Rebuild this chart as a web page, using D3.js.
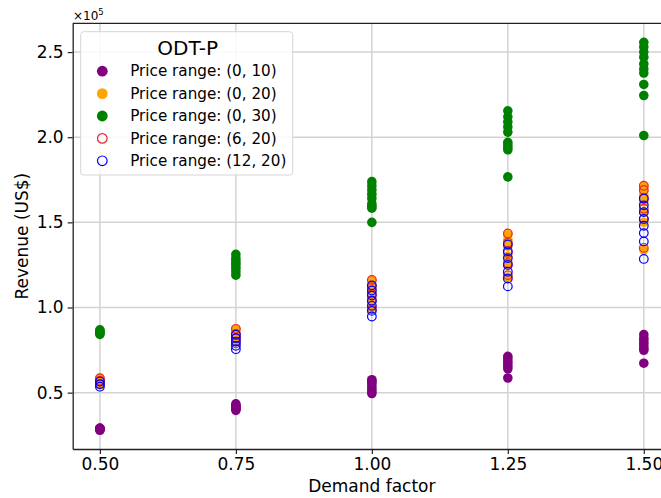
<!DOCTYPE html>
<html>
<head>
<meta charset="utf-8">
<script src="https://cdn.jsdelivr.net/npm/d3@7"></script>
<style>
  body { margin: 0; background: #fff; }
  text { font-family: "DejaVu Sans", sans-serif; fill: #000; }
</style>
</head>
<body>
<svg id="chart" width="661" height="498"></svg>
<script>
// demand factors on the x axis
var demandFactors = [0.5, 0.75, 1.0, 1.25, 1.5];

// revenue in units of 1e5 US$, one list per demand factor
var range0to10 = [
  [0.279, 0.282, 0.285, 0.288, 0.290, 0.292],
  [0.396, 0.402, 0.408, 0.414, 0.420, 0.426, 0.434],
  [0.495, 0.505, 0.520, 0.535, 0.550, 0.560, 0.570, 0.576],
  [0.586, 0.640, 0.655, 0.670, 0.685, 0.700, 0.713],
  [0.673, 0.749, 0.760, 0.775, 0.790, 0.805, 0.820, 0.841]
];
var range0to20 = [
  [0.545, 0.560, 0.575, 0.582],
  [0.800, 0.830, 0.850, 0.871],
  [1.000, 1.050, 1.100, 1.130, 1.159],
  [1.179, 1.250, 1.300, 1.360, 1.400, 1.428],
  [1.339, 1.500, 1.560, 1.620, 1.660, 1.682, 1.712]
];
var range0to30 = [
  [0.842, 0.848, 0.855, 0.862, 0.869],
  [1.190, 1.210, 1.230, 1.245, 1.260, 1.275, 1.290, 1.312],
  [1.500, 1.583, 1.595, 1.610, 1.640, 1.665, 1.690, 1.715, 1.739],
  [1.767, 1.926, 1.940, 1.955, 1.970, 2.030, 2.060, 2.090, 2.120, 2.155],
  [2.010, 2.245, 2.310, 2.377, 2.400, 2.430, 2.470, 2.500, 2.530, 2.557]
];
var range6to20 = [
  [0.550, 0.570, 0.585],
  [0.790, 0.820, 0.845, 0.875],
  [0.990, 1.040, 1.080, 1.120, 1.162],
  [1.190, 1.260, 1.320, 1.380, 1.435],
  [1.350, 1.520, 1.580, 1.640, 1.690, 1.715]
];
var range12to20 = [
  [0.535, 0.550, 0.565],
  [0.755, 0.775, 0.800, 0.820, 0.840],
  [0.947, 0.980, 1.010, 1.040, 1.070, 1.100, 1.130],
  [1.124, 1.170, 1.210, 1.250, 1.290, 1.330, 1.370],
  [1.285, 1.388, 1.437, 1.480, 1.520, 1.560, 1.600, 1.640]
];

var xTicks = [0.5, 0.75, 1.0, 1.25, 1.5];
var yTicks = [0.5, 1.0, 1.5, 2.0, 2.5];

var series = [
  {label: "Price range: (0, 10)", data: range0to10, color: "purple", hollow: false},
  {label: "Price range: (0, 20)", data: range0to20, color: "orange", hollow: false},
  {label: "Price range: (0, 30)", data: range0to30, color: "green", hollow: false},
  {label: "Price range: (6, 20)", data: range6to20, color: "#e8262b", hollow: true},
  {label: "Price range: (12, 20)", data: range12to20, color: "blue", hollow: true}
];

var svg = d3.select("#chart");
var plotLeft = 72.7, plotTop = 23.3, plotBottom = 449, plotRight = 671;

var x = d3.scaleLinear().domain([0.45, 1.55]).range([plotLeft, plotRight]);
var y = d3.scaleLinear().domain([0.169, 2.669]).range([plotBottom, plotTop]);

// grid
var grid = svg.append("g");
grid.selectAll("line.gx").data(xTicks).enter().append("line")
  .attr("x1", function(d){ return x(d); }).attr("x2", function(d){ return x(d); })
  .attr("y1", plotTop).attr("y2", plotBottom)
  .attr("stroke", "#d3d3d3").attr("stroke-width", 1.5);
grid.selectAll("line.gy").data(yTicks).enter().append("line")
  .attr("y1", function(d){ return y(d); }).attr("y2", function(d){ return y(d); })
  .attr("x1", plotLeft).attr("x2", plotRight)
  .attr("stroke", "#d3d3d3").attr("stroke-width", 1.5);

// axes
var xAxis = svg.append("g").attr("transform", "translate(0," + plotBottom + ")")
  .call(d3.axisBottom(x).tickValues(xTicks).tickFormat(d3.format(".2f"))
    .tickSizeInner(5).tickSizeOuter(0).tickPadding(4));
var yAxis = svg.append("g").attr("transform", "translate(" + plotLeft + ",0)")
  .call(d3.axisLeft(y).tickValues(yTicks).tickFormat(d3.format(".1f"))
    .tickSizeInner(5).tickSizeOuter(0).tickPadding(4));
[xAxis, yAxis].forEach(function(a){
  a.select(".domain").attr("stroke", "#222").attr("stroke-width", 1.3);
  a.selectAll(".tick line").attr("stroke", "#222").attr("stroke-width", 1.2);
  a.selectAll(".tick text").style("font-size", "17px").style("font-family", "DejaVu Sans");
});
// top spine
svg.append("line").attr("x1", plotLeft).attr("x2", plotRight).attr("y1", plotTop).attr("y2", plotTop)
  .attr("stroke", "#222").attr("stroke-width", 1.3);

// points
var plot = svg.append("g");
series.forEach(function(s){
  var pts = [];
  s.data.forEach(function(vals, i){
    vals.forEach(function(v){ pts.push({x: demandFactors[i], y: v}); });
  });
  plot.append("g").selectAll("circle").data(pts).enter().append("circle")
    .attr("cx", function(d){ return x(d.x); })
    .attr("cy", function(d){ return y(d.y); })
    .attr("r", s.hollow ? 4.3 : 4.8)
    .attr("fill", s.hollow ? "none" : s.color)
    .attr("stroke", s.hollow ? s.color : "none")
    .attr("stroke-width", 1.2);
});

// offset text
var off = svg.append("text").attr("x", 73).attr("y", 19.5).style("font-size", "12px");
off.append("tspan").text("\u00d710");
off.append("tspan").attr("dy", -5).style("font-size", "8.5px").text("5");

// axis labels
svg.append("text").attr("x", x(1.0)).attr("y", 492).attr("text-anchor", "middle")
  .style("font-size", "17px").text("Demand factor");
svg.append("text").attr("transform", "translate(28," + ((plotTop + plotBottom) / 2) + ") rotate(-90)")
  .attr("text-anchor", "middle").style("font-size", "17px").text("Revenue (US$)");

// legend
var lg = svg.append("g").attr("transform", "translate(80.7,31.7)");
lg.append("rect").attr("width", 212).attr("height", 143.3).attr("rx", 3)
  .attr("fill", "rgba(255,255,255,0.85)").attr("stroke", "#d6d6d6").attr("stroke-width", 1);
lg.append("text").attr("x", 107).attr("y", 23.5).attr("text-anchor", "middle")
  .style("font-size", "20px").text("ODT-P");
series.forEach(function(s, i){
  var cy = 39.5 + i * 22.4;
  lg.append("circle").attr("cx", 21.6).attr("cy", cy)
    .attr("r", s.hollow ? 4.8 : 5.4)
    .attr("fill", s.hollow ? "none" : s.color)
    .attr("stroke", s.hollow ? s.color : "none").attr("stroke-width", 1.2);
  lg.append("text").attr("x", 49.5).attr("y", cy + 5.3)
    .style("font-size", "15.2px").text(s.label);
});
</script>
</body>
</html>
